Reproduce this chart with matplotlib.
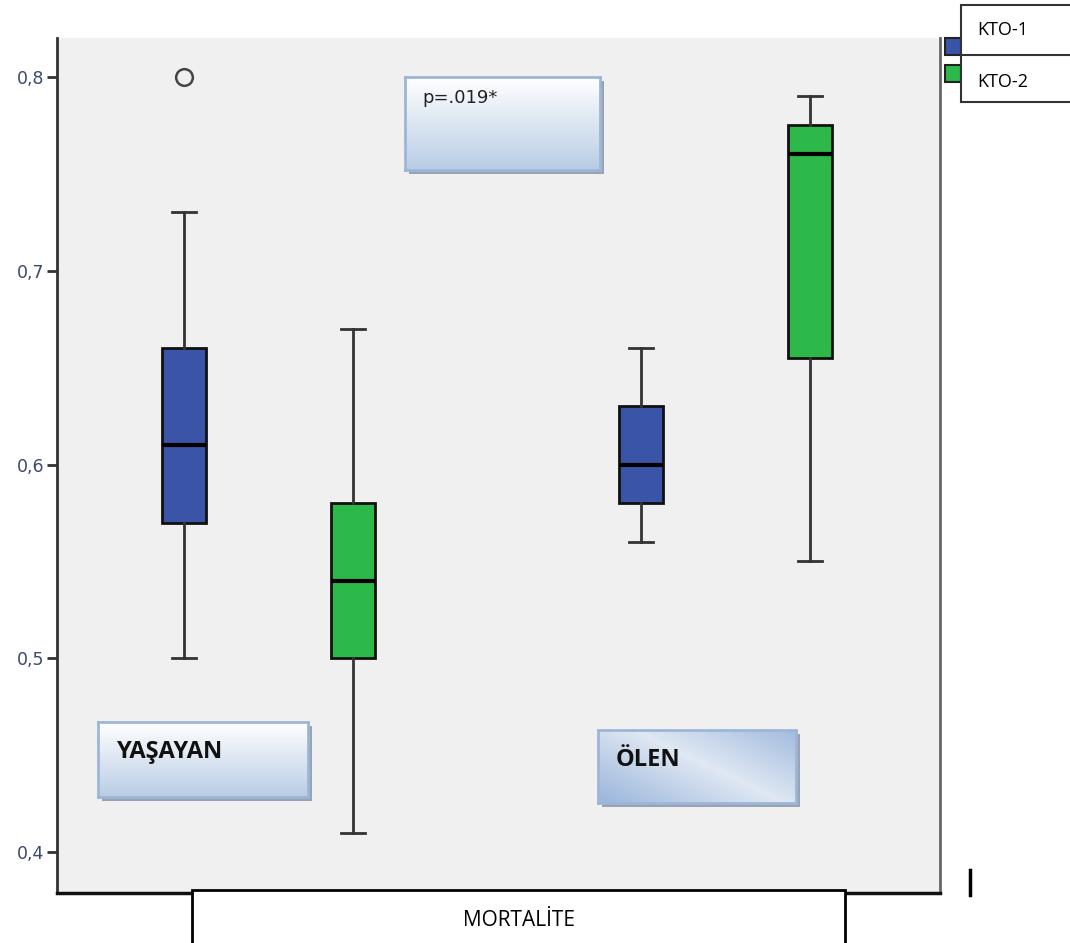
import matplotlib.pyplot as plt
import numpy as np
from matplotlib.patches import Rectangle
from matplotlib.colors import LinearSegmentedColormap

# box statistics per group (whislo, q1, med, q3, whishi)
groups = ["YAŞAYAN", "ÖLEN"]
series = ["KTO-1", "KTO-2"]
kto1_stats = [[0.50, 0.57, 0.61, 0.66, 0.73], [0.56, 0.58, 0.60, 0.63, 0.66]]
kto2_stats = [[0.41, 0.50, 0.54, 0.58, 0.67], [0.55, 0.655, 0.76, 0.775, 0.79]]
kto1_fliers = [[0.80], []]
kto2_fliers = [[], []]
yticks = [0.4, 0.5, 0.6, 0.7, 0.8]
ytick_labels = ["0,4", "0,5", "0,6", "0,7", "0,8"]
p_text = "p=.019*"
xlabel = "MORTALİTE"

COLORS = {"KTO-1": "#3A55A8", "KTO-2": "#2DB84A"}
W, H = 1070, 943


def fx(x):
    return x / W


def fy(y):
    return 1 - y / H


def gradient_box(fig, x0, y0, x1, y1, text, cmap, ty, diag=False, **kw):
    # shadow
    fig.patches.append(Rectangle((fx(x0 + 4), fy(y1 + 4)), fx(x1 - x0), (y1 - y0) / H,
                                 transform=fig.transFigure, facecolor="#9aa3b3",
                                 edgecolor="none", zorder=5))
    ax = fig.add_axes([fx(x0), fy(y1), fx(x1 - x0), (y1 - y0) / H], zorder=6)
    if diag:
        gx, gy = np.meshgrid(np.linspace(0, 1, 100), np.linspace(0, 1, 60))
        grad = np.abs((gx * 0.8 + (1 - gy) * 0.6) - 0.75)
        grad = 1 - np.clip(grad / 0.75, 0, 1)
    else:
        grad = np.linspace(0, 1, 60)[:, None] * np.ones((1, 10))
    ax.imshow(grad, cmap=cmap, aspect="auto", extent=[0, 1, 0, 1], origin="upper")
    ax.set_xticks([])
    ax.set_yticks([])
    for s in ax.spines.values():
        s.set_color("#9db6d8")
        s.set_linewidth(2)
    ax.text(0.09, ty, text, transform=ax.transAxes, va="center", ha="left", **kw)


fig = plt.figure(figsize=(W / 100, H / 100), dpi=100)
ax = fig.add_axes([fx(57), fy(893), fx(940 - 57), (893 - 38) / H])
ax.set_facecolor("#F0F0F0")

offset, width = 0.185, 0.096
stats = []
colors = []
positions = []
for gi in range(len(groups)):
    for name, st, fl, off in ((series[0], kto1_stats[gi], kto1_fliers[gi], -offset),
                              (series[1], kto2_stats[gi], kto2_fliers[gi], offset)):
        lo, q1, med, q3, hi = st
        stats.append(dict(whislo=lo, q1=q1, med=med, q3=q3, whishi=hi, fliers=fl))
        colors.append(COLORS[name])
        positions.append(gi + 1 + off)

bp = ax.bxp(stats, positions=positions, widths=width, capwidths=0.053, patch_artist=True,
            boxprops=dict(edgecolor="#111111", linewidth=2),
            whiskerprops=dict(color="#333333", linewidth=2),
            capprops=dict(color="#333333", linewidth=2),
            medianprops=dict(color="black", linewidth=3),
            flierprops=dict(marker="o", markersize=12, markerfacecolor="none",
                            markeredgecolor="#444444", markeredgewidth=1.8))
for patch, c in zip(bp["boxes"], colors):
    patch.set_facecolor(c)

ax.set_xlim(0.536, 2.47)
ax.set_ylim(0.379, 0.820)
ax.set_xticks([])
ax.set_yticks(yticks, ytick_labels)
ax.tick_params(axis="y", length=7, width=2, color="#333333", labelcolor="#3b4a6b", labelsize=12.5, pad=2)
ax.spines["top"].set_visible(False)
ax.spines["left"].set_color("#333333")
ax.spines["left"].set_linewidth(2)
ax.spines["bottom"].set_color("#111111")
ax.spines["bottom"].set_linewidth(2.5)
ax.spines["right"].set_color("#666666")
ax.spines["right"].set_linewidth(2)

blue_grad = LinearSegmentedColormap.from_list("bg", ["#ffffff", "#b9cde5"])
diag_grad = LinearSegmentedColormap.from_list("dg", ["#9ab5da", "#dfe8f3"])
gradient_box(fig, 405, 77, 600, 170, p_text, blue_grad, 0.77, fontsize=13, color="#222222", family="DejaVu Sans")
gradient_box(fig, 98, 722, 308, 797, groups[0], blue_grad, 0.60, fontsize=17, fontweight="bold", color="#111111", family="Open Sans")
gradient_box(fig, 598, 730, 796, 803, groups[1], diag_grad, 0.59, diag=True, fontsize=17, fontweight="bold", color="#111111", family="Open Sans")

# legend patches and label boxes
for i, name in enumerate(series):
    y0 = 38 + i * 27
    fig.patches.append(Rectangle((fx(945), fy(y0 + 17)), fx(16), 17 / H, transform=fig.transFigure,
                                 facecolor=COLORS[name], edgecolor="#222222", linewidth=1.5, zorder=3))
fig.patches.append(Rectangle((fx(961), fy(102)), fx(115), 97 / H, transform=fig.transFigure,
                             facecolor="white", edgecolor="#333333", linewidth=1.5, zorder=4))
fig.add_artist(plt.Line2D([fx(961), 1], [fy(55), fy(55)], color="#333333", linewidth=1.5, zorder=5))
fig.text(fx(977), fy(30), series[0], fontsize=13, va="center", family="Open Sans", zorder=6)
fig.text(fx(977), fy(82), series[1], fontsize=13, va="center", family="Open Sans", zorder=6)

# axis title box
fig.patches.append(Rectangle((fx(192), fy(950)), fx(845 - 192), 60 / H, transform=fig.transFigure,
                             facecolor="white", edgecolor="black", linewidth=2, zorder=4))
fig.text(fx(519), fy(920), xlabel, fontsize=15, ha="center", va="center", family="Open Sans", zorder=6)
fig.add_artist(plt.Line2D([fx(970), fx(970)], [fy(870), fy(895)], color="black", linewidth=2.5))

fig.savefig("out.png", dpi=100)
